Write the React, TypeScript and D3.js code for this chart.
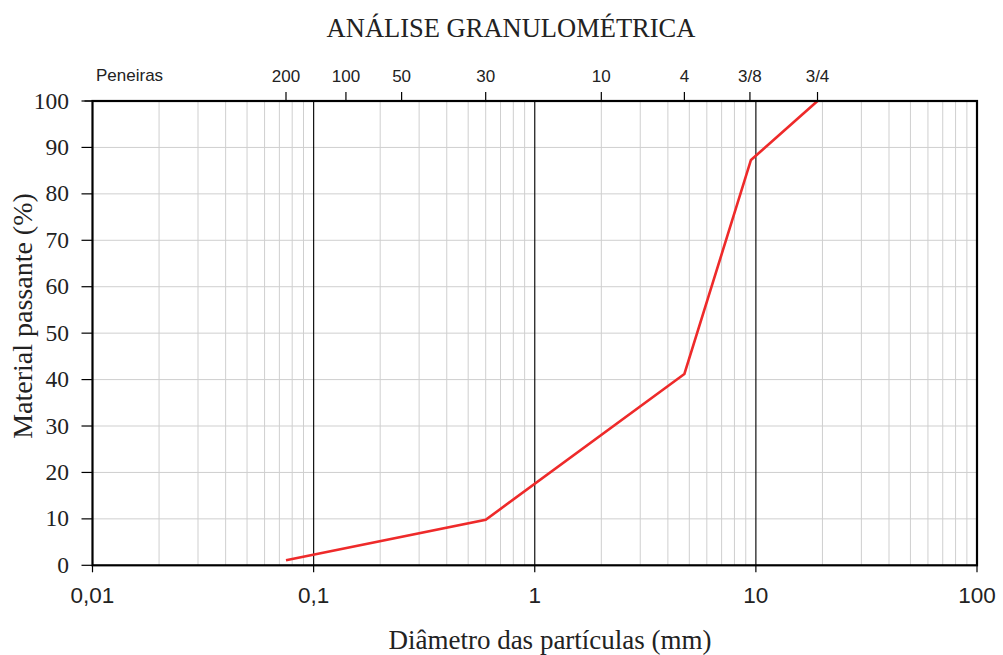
import React from "react";
import * as d3 from "d3";

const diameters = [0.075, 0.6, 4.75, 9.5, 19];
const passing = [1.1, 9.8, 41.2, 87.3, 100];
const sieveLabels = ["200", "100", "50", "30", "10", "4", "3/8", "3/4"];
const sieveSizes = [0.075, 0.14, 0.25, 0.6, 2.0, 4.75, 9.4, 19];
const xTicks = [0.01, 0.1, 1, 10, 100];
const xTickLabels = ["0,01", "0,1", "1", "10", "100"];
const yTicks = [0, 10, 20, 30, 40, 50, 60, 70, 80, 90, 100];

const W = 1003, H = 655;
const L = 92.5, R = 977, T = 101, B = 565.3;

export default function App() {
  const x = d3.scaleLog().domain([0.01, 100]).range([L, R]);
  const y = d3.scaleLinear().domain([0, 100]).range([B, T]);
  const minor: number[] = [];
  for (let e = -2; e < 2; e++) {
    for (let m = 2; m <= 9; m++) minor.push(m * Math.pow(10, e));
  }
  const line = d3.line<number>().x((_, i) => x(diameters[i])).y((d) => y(d));
  const serif = "'Liberation Serif', 'Times New Roman', serif";
  const sans = "'Liberation Sans', Arial, sans-serif";
  return (
    <svg width={W} height={H} style={{ position: "absolute", left: 0, top: 0, background: "#fff" }}>
      <text x={511} y={37} textAnchor="middle" fontFamily={serif} fontSize={26.5} fill="#222">ANÁLISE GRANULOMÉTRICA</text>
      {yTicks.filter((v) => v > 0 && v < 100).map((v) => (
        <line key={"h" + v} x1={L} x2={R} y1={y(v)} y2={y(v)} stroke="#cfcfcf" strokeWidth={1} />
      ))}
      {minor.map((v, i) => (
        <line key={"m" + i} x1={x(v)} x2={x(v)} y1={T} y2={B} stroke="#cfcfcf" strokeWidth={1} />
      ))}
      {[0.1, 1, 10].map((v) => (
        <line key={"M" + v} x1={x(v)} x2={x(v)} y1={T} y2={B} stroke="#111" strokeWidth={1.2} />
      ))}
      <path d={line(passing) || ""} fill="none" stroke="#ee2a2a" strokeWidth={2.6} />
      <rect x={L} y={T} width={R - L} height={B - T} fill="none" stroke="#000" strokeWidth={2.2} />
      {yTicks.map((v) => (
        <g key={"y" + v}>
          <line x1={L - 11} x2={L} y1={y(v)} y2={y(v)} stroke="#000" strokeWidth={1.2} />
          <text x={69} y={y(v) + 7.5} textAnchor="end" fontFamily={serif} fontSize={23.5} fill="#222">{v}</text>
        </g>
      ))}
      {xTicks.map((v, i) => (
        <g key={"x" + v}>
          <line x1={x(v)} x2={x(v)} y1={B} y2={B + 7} stroke="#000" strokeWidth={1.2} />
          <text x={x(v)} y={603} textAnchor="middle" fontFamily={sans} fontSize={22.5} fill="#222">{xTickLabels[i]}</text>
        </g>
      ))}
      <line x1={L - 8} x2={L} y1={T} y2={T} stroke="#000" strokeWidth={1.2} />
      <text x={96} y={81} fontFamily={sans} fontSize={17} fill="#222">Peneiras</text>
      {sieveSizes.map((v, i) => (
        <g key={"s" + i}>
          <line x1={x(v)} x2={x(v)} y1={T - 9} y2={T} stroke="#000" strokeWidth={1.2} />
          <text x={x(v)} y={82} textAnchor="middle" fontFamily={sans} fontSize={17} fill="#222">{sieveLabels[i]}</text>
        </g>
      ))}
      <text x={550} y={649} textAnchor="middle" fontFamily={serif} fontSize={27} fill="#222">Diâmetro das partículas (mm)</text>
      <text transform="translate(32,316) rotate(-90)" textAnchor="middle" fontFamily={serif} fontSize={28} fill="#222">Material passante (%)</text>
    </svg>
  );
}
